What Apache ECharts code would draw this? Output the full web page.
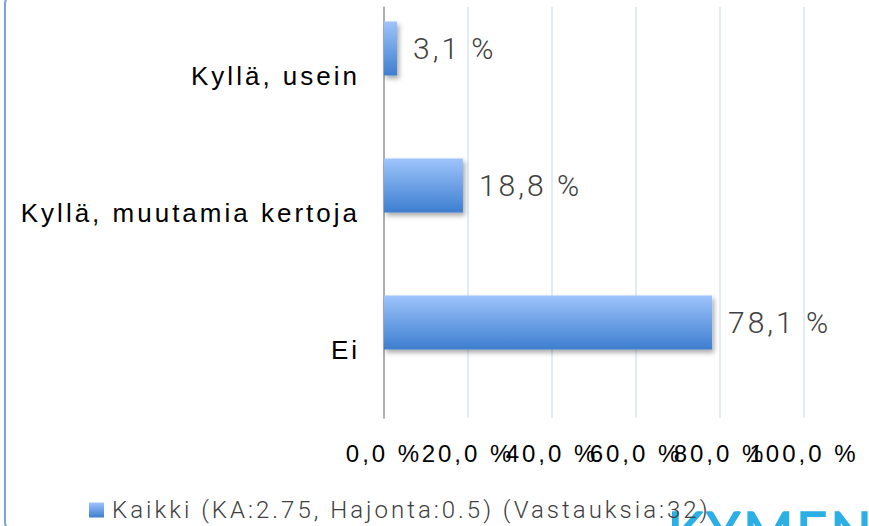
<!DOCTYPE html>
<html>
<head>
<meta charset="utf-8">
<script src="https://cdn.jsdelivr.net/npm/echarts@6/dist/echarts.min.js"></script>
<style>
    html, body { margin: 0; padding: 0; background: #fff; }
    #main { width: 869px; height: 526px; }
    /* the original uses wide letter spacing everywhere */
    #main svg text { letter-spacing: 3px; }
</style>
</head>
<body>
<div id="main"></div>
<script>
    // categories from bottom to top
    var categories = ['Ei', 'Kyllä, muutamia kertoja', 'Kyllä, usein'];
    var values = [78.1, 18.8, 3.1];
    var seriesName = 'Kaikki (KA:2.75, Hajonta:0.5) (Vastauksia:32)';
    var xTicks = [0, 20, 40, 60, 80, 100];

    function fmtPct(v) {
        return v.toFixed(1).replace('.', ',') + ' %';
    }

    var chart = echarts.init(document.getElementById('main'), null, {renderer: 'svg'});

    var barColor = new echarts.graphic.LinearGradient(0, 0, 0, 1, [
        {offset: 0, color: '#9EC4FC'},
        {offset: 1, color: '#3D7ECF'}
    ]);

    chart.setOption({
        animation: false,
        backgroundColor: '#fff',
        grid: {left: 384, right: 65, top: 7, bottom: 108, containLabel: false},
        legend: {
            data: [seriesName],
            left: 84,
            top: 493,
            itemWidth: 15,
            itemHeight: 15,
            icon: 'rect',
            textStyle: {
                fontFamily: 'Roboto',
                fontWeight: 300,
                fontSize: 24,
                color: '#404040',
                padding: [0, 0, 0, 3]
            }
        },
        xAxis: {
            type: 'value',
            min: xTicks[0],
            max: xTicks[xTicks.length - 1],
            interval: 20,
            axisLine: {show: false},
            axisTick: {show: false},
            splitLine: {lineStyle: {color: '#DAE4F3', width: 1.5}},
            axisLabel: {
                margin: 23,
                fontFamily: 'Liberation Sans',
                fontSize: 24,
                color: '#000',
                formatter: fmtPct
            }
        },
        yAxis: {
            type: 'category',
            data: categories,
            axisTick: {show: false},
            axisLine: {lineStyle: {color: '#9A9A9A', width: 1.5}},
            axisLabel: {
                margin: 24,
                fontFamily: 'Liberation Sans',
                fontSize: 26,
                color: '#000'
            }
        },
        graphic: [
            {
                type: 'rect',
                z: -10,
                shape: {x: 5, y: -6, width: 900, height: 538, r: 10},
                style: {fill: 'none', stroke: '#7FA1D5', lineWidth: 2}
            },
            {
                type: 'text',
                z: -5,
                left: 667,
                top: 503,
                style: {
                    text: 'KYMENLAAKSO',
                    fontFamily: 'Lato',
                    fontSize: 54,
                    fill: '#2BAFE4',
                    stroke: '#2BAFE4',
                    lineWidth: 1.5
                }
            }
        ],
        series: [
            {
                name: seriesName,
                type: 'bar',
                data: values,
                barWidth: 54,
                barGap: '0%',
                itemStyle: {
                    color: barColor,
                    shadowColor: 'rgba(0,0,0,0.35)',
                    shadowBlur: 5,
                    shadowOffsetX: 2,
                    shadowOffsetY: 3
                },
                label: {
                    show: true,
                    position: 'right',
                    distance: 16,
                    fontFamily: 'Roboto',
                    fontWeight: 300,
                    fontSize: 30,
                    color: '#404040',
                    formatter: function (p) { return fmtPct(p.value); }
                }
            },
            {
                // empty second slot, the original leaves room for another series
                name: 'tyhja',
                type: 'bar',
                data: ['-', '-', '-'],
                barWidth: 54,
                barGap: '0%'
            }
        ]
    });
</script>
</body>
</html>
